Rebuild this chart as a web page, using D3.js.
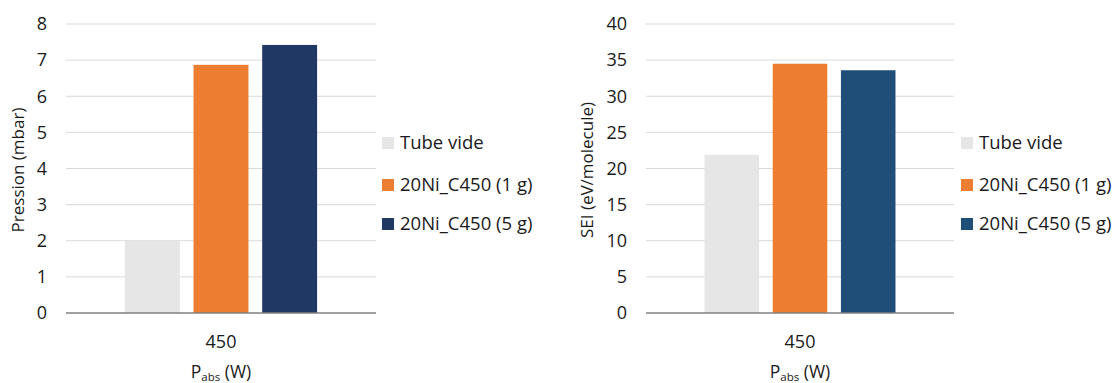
<!DOCTYPE html>
<html>
<head>
<meta charset="utf-8">
<script src="https://cdn.jsdelivr.net/npm/d3@7"></script>
<style>
  body { margin: 0; background: #fff; }
  svg text { font-family: "Open Sans", sans-serif; fill: #1a1a1a; }
</style>
</head>
<body>
<div id="chart"></div>
<script>
// data
const categories = ["450"];
const seriesNames = ["Tube vide", "20Ni_C450 (1 g)", "20Ni_C450 (5 g)"];
const pressionValues = [2.0, 6.87, 7.42];
const seiValues = [21.9, 34.5, 33.6];
const pressionTicks = [0, 1, 2, 3, 4, 5, 6, 7, 8];
const seiTicks = [0, 5, 10, 15, 20, 25, 30, 35, 40];

const svg = d3.select("#chart").append("svg")
    .attr("width", 1115)
    .attr("height", 383);

function drawChart(opts) {
    const g = svg.append("g");
    const x0 = d3.scaleBand().domain(categories)
        .range([opts.left, opts.right])
        .paddingInner(0.38).paddingOuter(0.19);
    const x1 = d3.scaleBand().domain(seriesNames)
        .range([0, x0.bandwidth()]).paddingInner(0.2);
    const y = d3.scaleLinear().domain([0, d3.max(opts.ticks)]).range([313, 24]);

    // gridlines
    g.selectAll(".grid").data(opts.ticks.slice(1)).enter()
        .append("line")
        .attr("x1", opts.left).attr("x2", opts.right)
        .attr("y1", d => y(d)).attr("y2", d => y(d))
        .attr("stroke", "#d9d9d9").attr("stroke-width", 1);

    // bars
    g.selectAll(".bar").data(opts.values).enter()
        .append("rect")
        .attr("x", (d, i) => x0(categories[0]) + x1(seriesNames[i]))
        .attr("y", d => y(d))
        .attr("width", x1.bandwidth())
        .attr("height", d => y(0) - y(d))
        .attr("fill", (d, i) => opts.colors[i]);

    // x axis line
    g.append("line")
        .attr("x1", opts.left).attr("x2", opts.right)
        .attr("y1", y(0)).attr("y2", y(0))
        .attr("stroke", "#7f7f7f").attr("stroke-width", 1.3);

    // y tick labels
    g.selectAll(".ytick").data(opts.ticks).enter()
        .append("text")
        .attr("x", opts.left - 19)
        .attr("y", d => y(d))
        .attr("dy", "0.35em")
        .attr("text-anchor", "end")
        .style("font-size", "18px")
        .text(d => d);

    // x tick label
    g.selectAll(".xtick").data(categories).enter()
        .append("text")
        .attr("x", d => x0(d) + x0.bandwidth() / 2)
        .attr("y", 342)
        .attr("dy", "0.35em")
        .attr("text-anchor", "middle")
        .style("font-size", "18px")
        .text(d => d);

    // x title
    const xt = g.append("text")
        .attr("x", (opts.left + opts.right) / 2)
        .attr("y", 378)
        .attr("text-anchor", "middle")
        .style("font-size", "17.5px");
    xt.append("tspan").text("P");
    xt.append("tspan").attr("dy", 3).style("font-size", "11.5px").text("abs");
    xt.append("tspan").attr("dy", -3).text(" (W)");

    // y title
    g.append("text")
        .attr("transform", "translate(" + opts.titleX + ",170) rotate(-90)")
        .attr("text-anchor", "middle")
        .style("font-size", "17px")
        .text(opts.title);

    // legend
    const legendRows = [143, 185, 224];
    const lg = g.selectAll(".legend").data(seriesNames).enter()
        .append("g")
        .attr("transform", (d, i) => "translate(" + opts.legendX + "," + legendRows[i] + ")");
    lg.append("rect")
        .attr("x", 0).attr("y", -6)
        .attr("width", 12).attr("height", 12)
        .attr("fill", (d, i) => opts.colors[i]);
    lg.append("text")
        .attr("x", 18).attr("dy", "0.35em")
        .style("font-size", "18.5px")
        .text(d => d);
}

drawChart({
    left: 66, right: 376, values: pressionValues, ticks: pressionTicks,
    colors: ["#e7e6e6", "#ed7d31", "#203864"],
    title: "Pression (mbar)", titleX: 24, legendX: 382
});

drawChart({
    left: 646, right: 954, values: seiValues, ticks: seiTicks,
    colors: ["#e7e6e6", "#ed7d31", "#1f4e79"],
    title: "SEI (eV/molecule)", titleX: 593, legendX: 961
});
</script>
</body>
</html>
